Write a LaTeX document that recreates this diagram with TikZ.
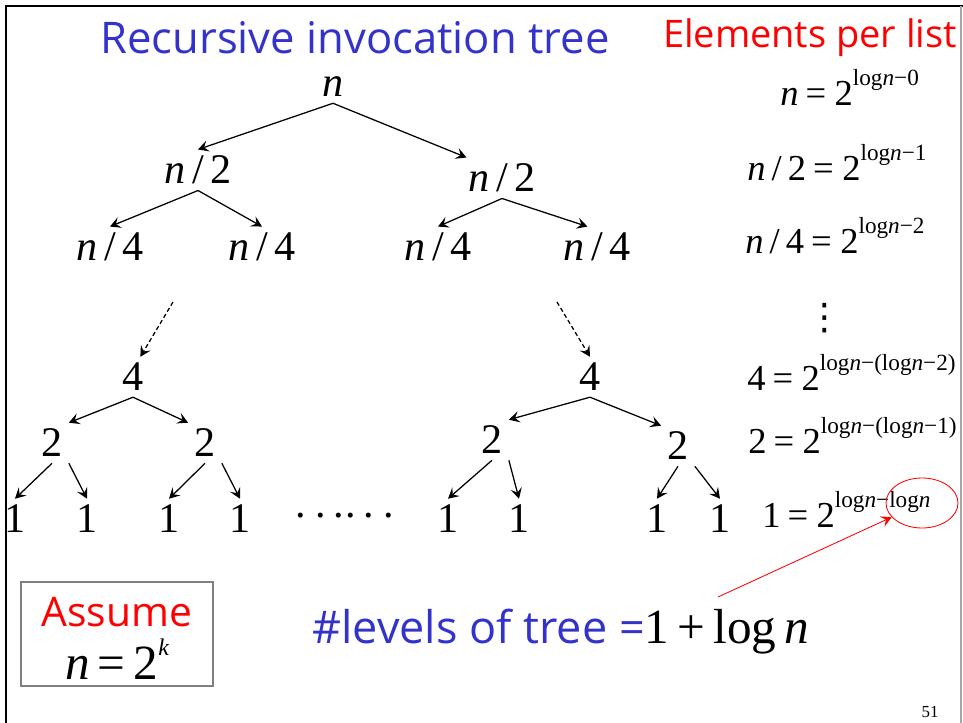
\documentclass[tikz,border=0pt]{standalone}
\usepackage{fontspec}
\setmainfont{Liberation Serif}
\newfontfamily\comicfont{Open Sans}
\newfontfamily\symfont{DejaVu Sans}
\usetikzlibrary{shapes.geometric,arrows.meta}

\definecolor{slideblue}{RGB}{51,51,204}
\newcommand{\vn}{\textit{n}}
\newcommand{\ex}[2][14pt]{\raisebox{#1}{\fontsize{16.5}{16.5}\selectfont #2}}
\newcommand{\eq}{\kern5pt=\kern6pt}

\tikzset{
  lbl/.style={inner sep=4.3pt,font=\fontsize{30}{30}\selectfont},
  eqn/.style={anchor=base west,inner sep=0pt,font=\fontsize{26}{26}\selectfont},
  head/.style={inner sep=0pt,font=\comicfont\fontsize{#1}{#1}\selectfont},
  head/.default=28,
  call/.style={->,line width=0.9pt},
}

\begin{document}
\begin{tikzpicture}[x=0.025cm,y=-0.025cm,>={Stealth[length=7.5pt,width=8pt,inset=3pt]}]
  \useasboundingbox (0,0) rectangle (963,723);
  % slide frame
  \draw[line width=2.1pt] (6,723) -- (6,6) -- (963,6);
  \draw[gray!70,line width=0.8pt] (961,6) -- (961,723);

  \node[head=31,text=slideblue] (title) at (355,38) {Recursive invocation tree};
  \node[head=27,text=red] (elist) at (810,38) {Elements per list};

  % upper levels
  \node[lbl] (root) at (333,87) {\vn};
  \node[lbl] (a) at (198,170) {\vn\,/\,2};
  \node[lbl] (b) at (502,178) {\vn\,/\,2};
  \node[lbl] (a1) at (110,247) {\vn\,/\,4};
  \node[lbl] (a2) at (262,247) {\vn\,/\,4};
  \node[lbl] (b1) at (438,247) {\vn\,/\,4};
  \node[lbl] (b2) at (597,247) {\vn\,/\,4};
  \draw[call] (root.south) -- (a.north);
  \draw[call] (root.south) -- (b.150);
  \draw[call] (a.south) -- (a1.north);
  \draw[call] (a.south) -- (a2.north);
  \draw[call] (b.south) -- (b1.north);
  \draw[call] (b.south) -- (b2.115);

  % lower levels
  \coordinate (dl) at (173,302);
  \coordinate (dr) at (557,302);
  \node[lbl] (c) at (133,377) {4};
  \node[lbl] (d) at (590,377) {4};
  \draw[call,dash pattern=on 3pt off 2pt] (dl) -- (c.70);
  \draw[call,dash pattern=on 3pt off 2pt] (dr) -- (d.north);
  \node[lbl] (c1) at (52,443) {2};
  \node[lbl] (c2) at (205,443) {2};
  \node[lbl] (d1) at (492,440) {2};
  \node[lbl] (d2) at (678,446) {2};
  \draw[call] (c.south) -- (c1.north east);
  \draw[call] (c.south) -- (c2.north west);
  \draw[call] (d.south) -- (d1.north east);
  \draw[call] (d.south) -- (d2.north west);
  \foreach \i/\x in {1/15,2/87,3/169,4/240,5/448,6/519,7/657,8/720}
    \node[lbl] (l\i) at (\x,519) {1};
  \draw[call] (c1.south) -- (l1.north);
  \draw[call] (c1.south east) -- (l2.north);
  \draw[call] (c2.south) -- (l3.north);
  \draw[call] (c2.south east) -- (l4.north);
  \draw[call] (d1.south) -- (l5.north);
  \draw[call] (d1.south east) -- (l6.north);
  \draw[call] (d2.south) -- (l7.north);
  \draw[call] (d2.south east) -- (l8.north);
  \node[anchor=base west,inner sep=0pt,font=\fontsize{30}{30}\selectfont] (gap) at (295,517)
    {.\kern6.7pt.\kern5.3pt.\kern1pt.\kern5.3pt.\kern6.7pt.};

  % sizes per level
  \node[eqn] (e0) at (780,105) {\vn\eq 2\ex{log\vn−0}};
  \node[eqn] (e1) at (747,180) {\vn\,/\,2\eq 2\ex{log\vn−1}};
  \node[eqn] (e2) at (745,253) {\vn\,/\,4\eq 2\ex{log\vn−2}};
  \node[inner sep=0pt,font=\symfont\fontsize{26}{26}\selectfont] (vd) at (825,318) {⋮};
  \node[eqn] (e3) at (747,390) {4\eq 2\ex{log\vn−(log\vn−2)}};
  \node[eqn] (e4) at (748,453) {2\eq 2\ex{log\vn−(log\vn−1)}};
  \node[eqn] (e5) at (762,527) {1\eq 2\ex{log\vn−log\vn}};
  \node[draw=red,ellipse,line width=0.6pt,minimum width=1.8cm,minimum height=1.25cm] (ring) at (922,503) {};

  \coordinate (tail) at (718,597);
  \draw[->,red,line width=0.6pt] (tail) -- (ring.205);

  \node[head=32,text=slideblue,anchor=base west] (levels) at (312,643)
    {\#levels of tree =\rmfamily\color{black}\fontsize{35}{35}\selectfont 1\,+\,log\,\vn};

  \node[draw=gray,line width=0.8pt,minimum width=4.8cm,minimum height=2.6cm] (box) at (117,634) {};
  \node[head=29,text=red] (asm) at (117,612) {Assume};
  \node[font=\fontsize{35}{35}\selectfont] (keq) at (117,659) {\vn\,=\,2\raisebox{17pt}{\fontsize{17}{17}\selectfont\itshape k}};

  \node[font=\fontsize{12}{12}\selectfont] (pg) at (930,712) {51};
\end{tikzpicture}
\end{document}
